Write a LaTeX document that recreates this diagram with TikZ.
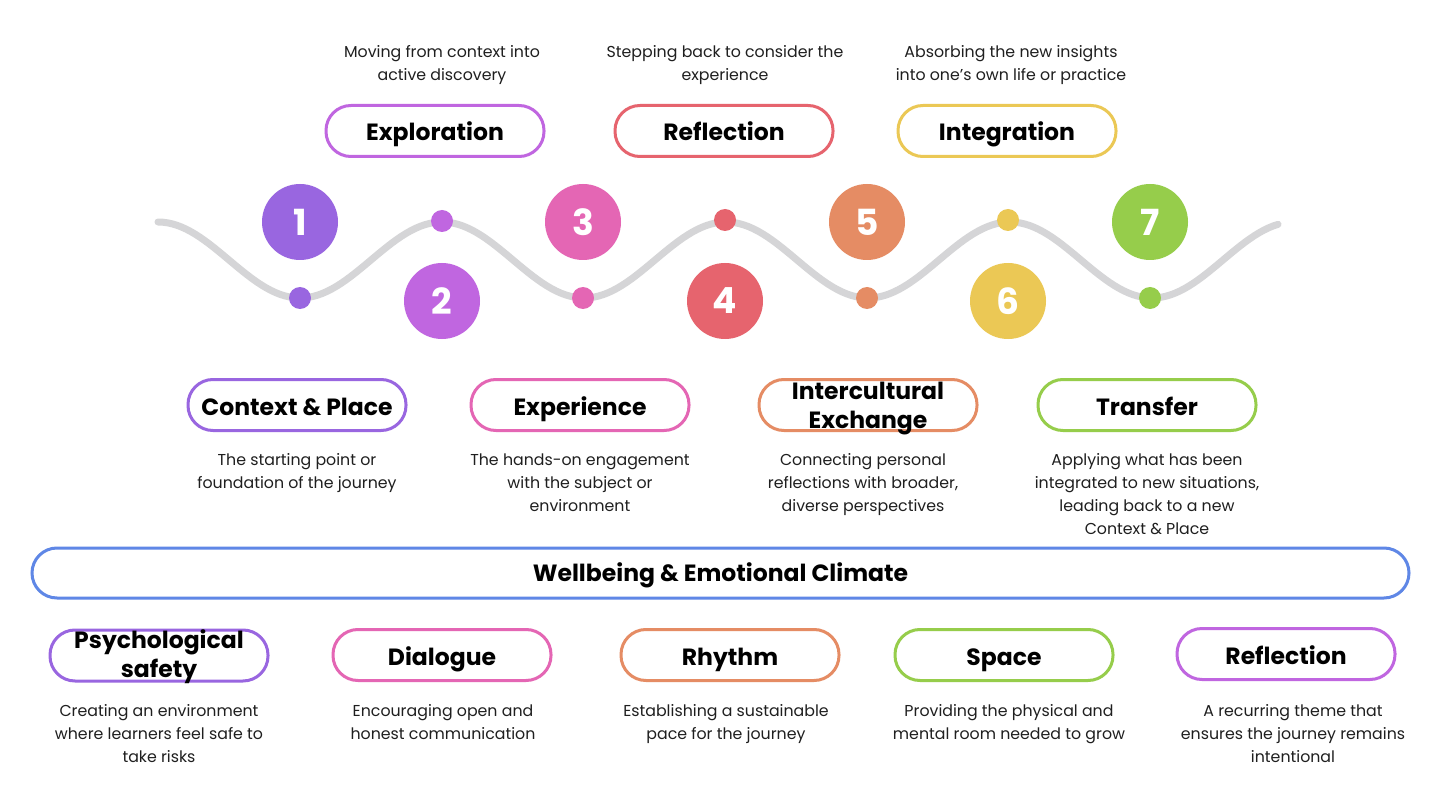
\documentclass[tikz,border=0pt]{standalone}
\usepackage{fontspec}
\setmainfont{Poppins}
\definecolor{cA}{HTML}{9966E0}
\definecolor{cB}{HTML}{C066E0}
\definecolor{cC}{HTML}{E466B4}
\definecolor{cD}{HTML}{E6646E}
\definecolor{cE}{HTML}{E58C64}
\definecolor{cF}{HTML}{EBC855}
\definecolor{cG}{HTML}{96CD4B}
\definecolor{cBlue}{HTML}{5F87E6}
\definecolor{waveGray}{HTML}{D5D5D7}
\tikzset{
  pillbase/.style={draw=#1, line width=3pt, rounded corners=25pt, minimum width=218pt, minimum height=51pt, inner sep=0pt, align=center, font=\fontsize{23.5}{29}\selectfont\bfseries},
  pill/.style={pillbase=#1, text height=21pt, text depth=1pt},
  pilltwo/.style={pillbase=#1},
  desc/.style={anchor=base, align=center, inner sep=0pt, font=\fontsize{15.8}{23}\selectfont, text=black!88},
  numc/.style={circle, fill=#1, minimum size=76pt, inner sep=0pt, text=white, font=\fontsize{36}{36}\selectfont\bfseries},
  dotc/.style={circle, fill=#1, minimum size=22pt, inner sep=0pt},
}
\begin{document}
\begin{tikzpicture}[x=1pt,y=-1pt]
\useasboundingbox (0,0) rectangle (1440,810);
\fill[white] (0,0) rectangle (1440,810);

% wave
\draw[waveGray, line width=7pt, line cap=round] plot[domain=158:1278, samples=240] (\x, {260-38*cos((\x-158)*1.267606)});

% small dots
\node[dotc=cA] (d1) at (300,298) {};
\node[dotc=cB] (d2) at (442,221) {};
\node[dotc=cC] (d3) at (583,298) {};
\node[dotc=cD] (d4) at (725,220) {};
\node[dotc=cE] (d5) at (867,298) {};
\node[dotc=cF] (d6) at (1008,220) {};
\node[dotc=cG] (d7) at (1150,298) {};

% numbered circles
\node[numc=cA] (n1) at (300,222) {1};
\node[numc=cB] (n2) at (442,301) {2};
\node[numc=cC] (n3) at (583,222) {3};
\node[numc=cD] (n4) at (725,301) {4};
\node[numc=cE] (n5) at (867,222) {5};
\node[numc=cF] (n6) at (1008,301) {6};
\node[numc=cG] (n7) at (1150,222) {7};

% top row
\node[desc] (t2) at (442,81) {Moving from context into\\active discovery};
\node[desc] (t4) at (725,81) {Stepping back to consider the\\experience};
\node[desc] (t6) at (1011,81) {Absorbing the new insights\\into one’s own life or practice};
\node[pill=cB] (p2) at (435,131) {Exploration};
\node[pill=cD] (p4) at (724,131) {Reflection};
\node[pill=cF] (p6) at (1007,131) {Integration};

% middle row
\node[pill=cA] (p1) at (297,405) {Context \& Place};
\node[pill=cC] (p3) at (580,405) {Experience};
\node[pilltwo=cE, text height=48pt, text depth=2pt] (p5) at (868,405) {Intercultural\\Exchange};
\node[pill=cG] (p7) at (1147,405) {Transfer};
\node[desc] (m1) at (297,488) {The starting point or\\foundation of the journey};
\node[desc] (m3) at (580,511) {The hands-on engagement\\with the subject or\\environment};
\node[desc] (m5) at (863,511) {Connecting personal\\reflections with broader,\\diverse perspectives};
\node[desc] (m7) at (1147,534) {Applying what has been\\integrated to new situations,\\leading back to a new\\Context \& Place};

% wellbeing bar
\node[draw=cBlue, line width=3pt, rounded corners=25pt, minimum width=1377pt, minimum height=50pt, inner sep=0pt, text height=17pt, text depth=1pt, font=\fontsize{23.5}{29}\selectfont\bfseries] (wb) at (720.5,573) {Wellbeing \& Emotional Climate};

% bottom row
\node[pilltwo=cA, text height=46pt, text depth=2.5pt] (b1) at (159,655.5) {Psychological\\safety};
\node[pill=cC] (b2) at (442,655) {Dialogue};
\node[pill=cE] (b3) at (730,655) {Rhythm};
\node[pill=cG] (b4) at (1004,655) {Space};
\node[pill=cB] (b5) at (1286,654) {Reflection};
\node[desc] (e1) at (159,762) {Creating an environment\\where learners feel safe to\\take risks};
\node[desc] (e2) at (443,739) {Encouraging open and\\honest communication};
\node[desc] (e3) at (726,739) {Establishing a sustainable\\pace for the journey};
\node[desc] (e4) at (1009,739) {Providing the physical and\\mental room needed to grow};
\node[desc] (e5) at (1293,762) {A recurring theme that\\ensures the journey remains\\intentional};
\end{tikzpicture}
\end{document}
